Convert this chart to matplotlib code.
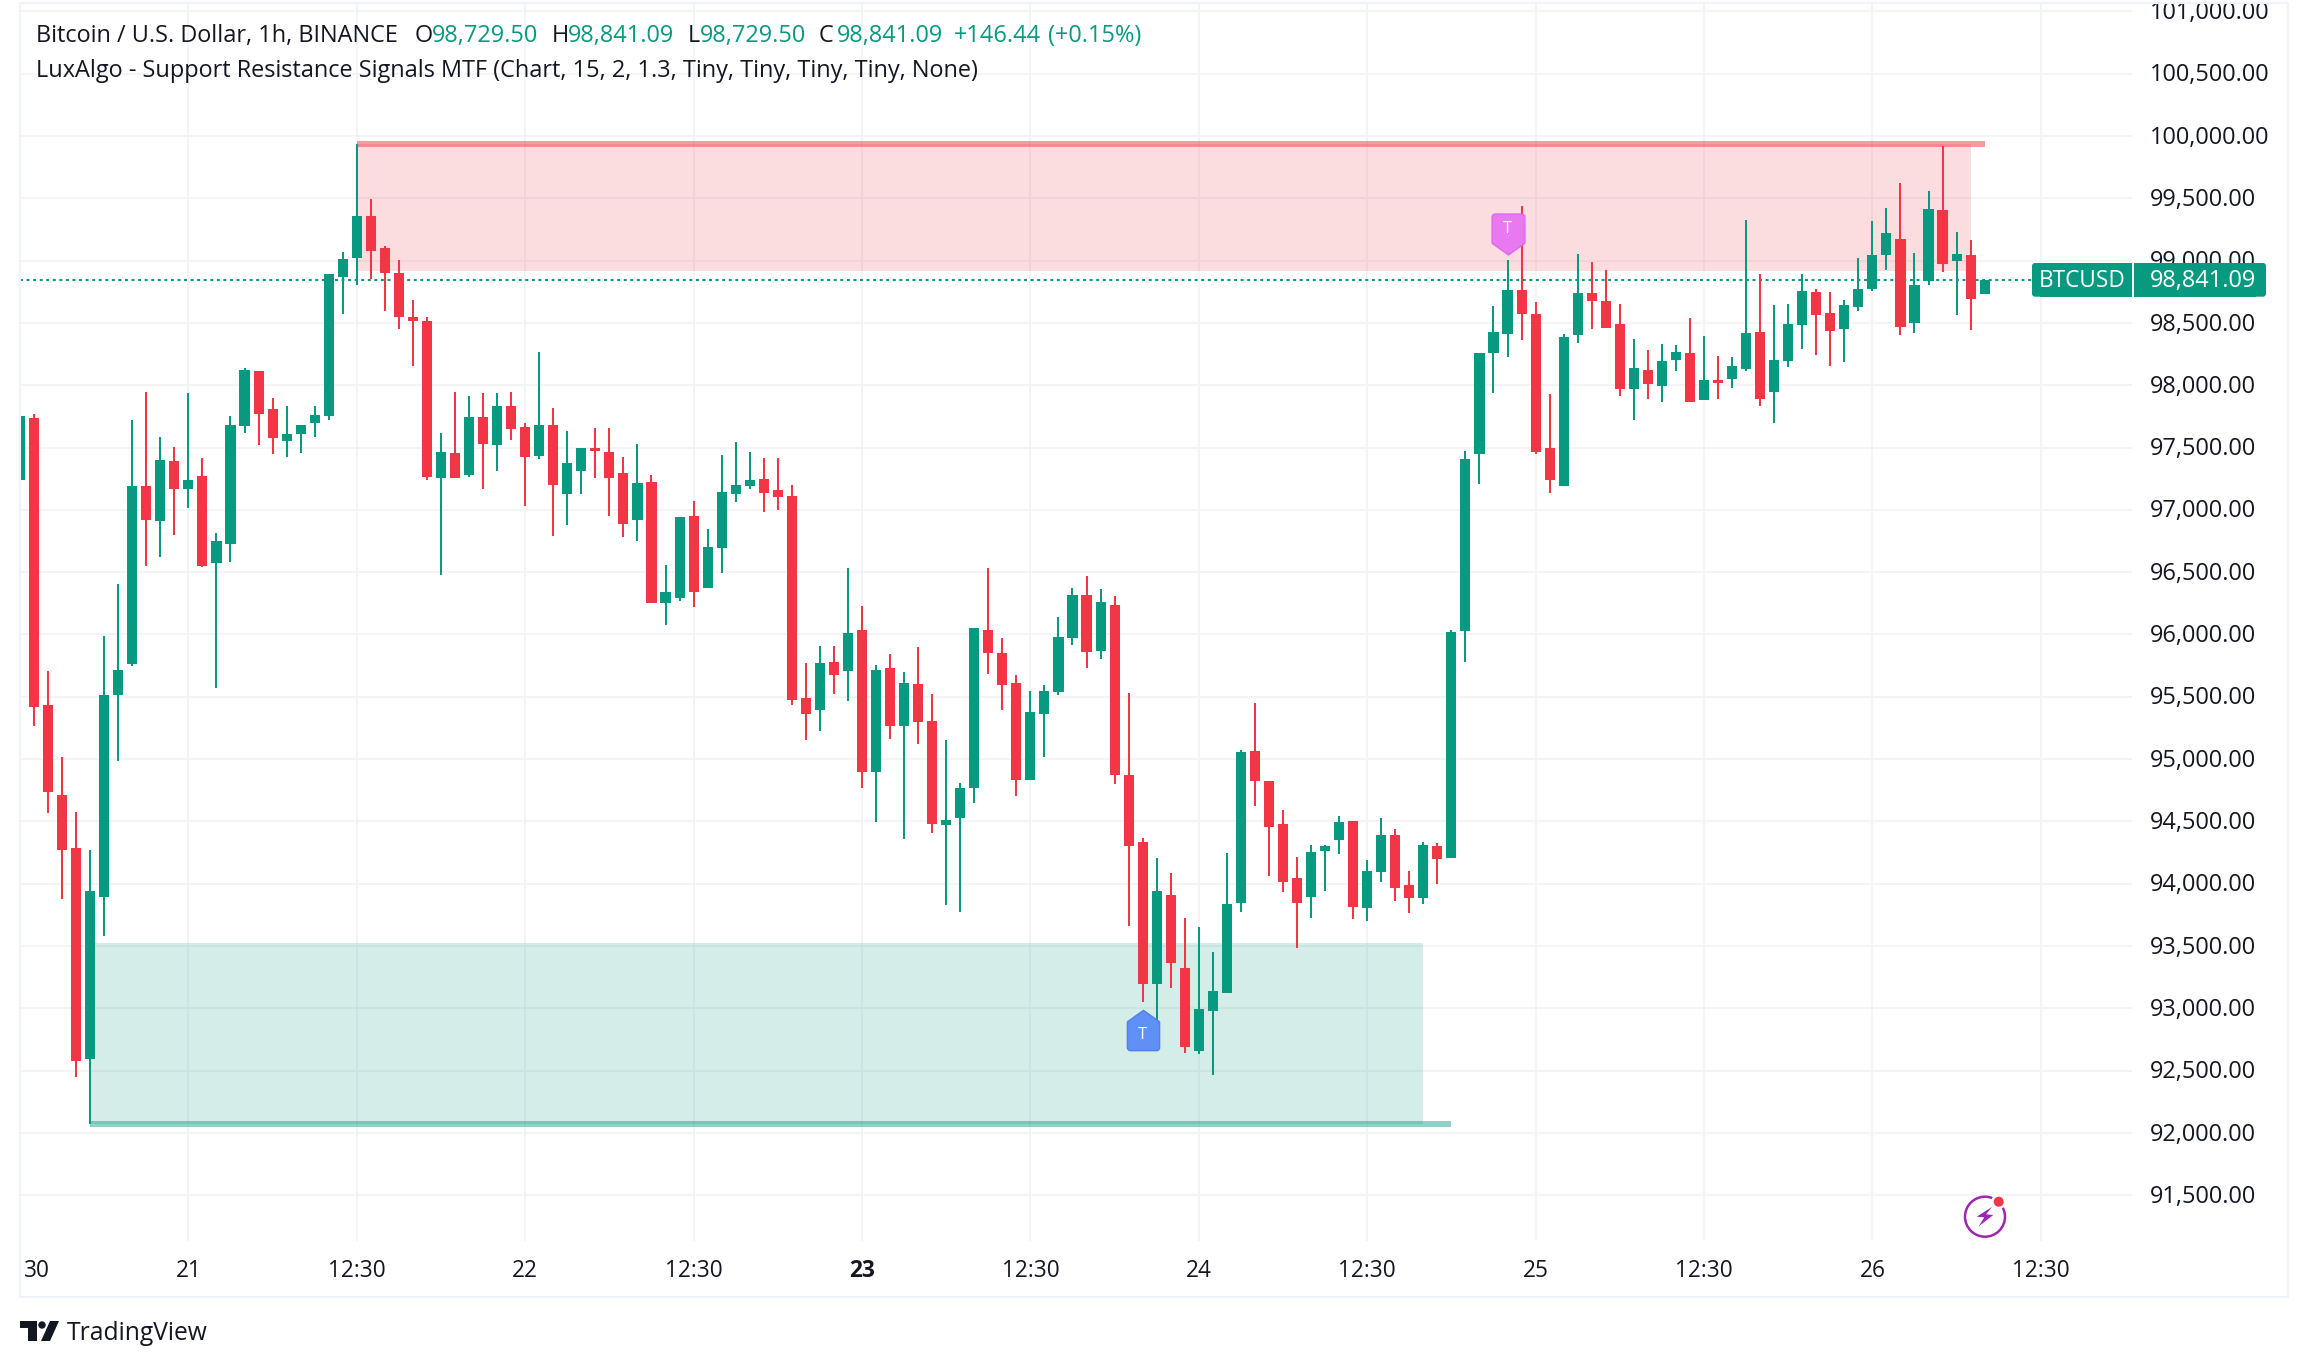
import matplotlib
matplotlib.use("Agg")
import matplotlib.pyplot as plt
from matplotlib.patches import Rectangle, FancyBboxPatch, Polygon, Circle
from matplotlib.path import Path
from matplotlib.transforms import Affine2D, ScaledTranslation

plt.rcParams["font.family"] = ["Open Sans", "DejaVu Sans"]

# hourly candles
opens = [
    97243, 97733, 95430, 94708, 94286, 92593, 93893, 95511, 95759, 97195,
    96914, 97388, 97171, 97275, 96577, 96722, 97676, 98118, 97813, 97556,
    97612, 97693, 97757, 98872, 99024, 99361, 99104, 98904, 98551, 98519,
    97259, 97460, 97283, 97741, 97524, 97837, 97668, 97436, 97684, 97131,
    97315, 97500, 97468, 97299, 96922, 97227, 96249, 96289, 96954, 96369,
    96690, 97131, 97195, 97251, 97163, 97115, 95487, 95394, 95776, 95705,
    96034, 94896, 95730, 95265, 95601, 95304, 94471, 94528, 94768, 96034,
    95848, 95608, 94832, 95361, 95537, 95969, 96313, 95866, 96234, 94871,
    94335, 93197, 93909, 93326, 92654, 92979, 93126, 93845, 95064, 94825,
    94478, 94045, 93895, 94263, 94349, 94503, 93805, 94095, 94392, 93991,
    93884, 94303, 94206, 96027, 97449, 98259, 98411, 98764, 98572, 97497,
    97192, 98403, 98740, 98676, 98491, 97970, 98122, 97994, 98203, 98259,
    97882, 98042, 98050, 98131, 98427, 97946, 98195, 98484, 98748, 98580,
    98451, 98628, 98772, 99045, 99173, 98500, 98836, 99406, 98997, 99045,
    98729.50,
]
highs = [
    97780, 97773, 95703, 95013, 94572, 94270, 95984, 96401, 97717, 97949,
    97588, 97508, 97941, 97412, 96818, 97749, 98142, 98118, 97901, 97837,
    97684, 97837, 98896, 99072, 99936, 99497, 99120, 99008, 98687, 98551,
    97620, 97949, 97917, 97941, 97941, 97949, 97693, 98270, 97821, 97636,
    97500, 97660, 97660, 97428, 97532, 97283, 96561, 96946, 97067, 96850,
    97444, 97548, 97468, 97412, 97412, 97203, 95769, 95905, 95905, 96531,
    96227, 95751, 95841, 95698, 95898, 95519, 95150, 94807, 96048, 96531,
    95969, 95673, 95544, 95594, 96138, 96370, 96467, 96363, 96306, 95529,
    94367, 94206, 94084, 93727, 93655, 93455, 94245, 95072, 95447, 94825,
    94592, 94213, 94310, 94310, 94542, 94503, 94192, 94528, 94438, 94102,
    94335, 94328, 96034, 97475, 98259, 98636, 99005, 99438, 98668, 97930,
    98411, 99053, 98989, 98925, 98652, 98371, 98283, 98331, 98323, 98540,
    98395, 98235, 98227, 99326, 98893, 98644, 98652, 98893, 98772, 98748,
    98684, 99021, 99318, 99422, 99623, 99061, 99558, 99919, 99230, 99165,
    98841.09,
]
lows = [
    97200, 95262, 94564, 93874, 92449, 92072, 93580, 94981, 95743, 96553,
    96618, 96802, 97011, 96545, 95567, 96585, 97620, 97524, 97452, 97420,
    97460, 97588, 97717, 98575, 98808, 98856, 98599, 98455, 98158, 97243,
    96481, 97259, 97267, 97171, 97315, 97564, 97027, 97404, 96794, 96882,
    97131, 97259, 96954, 96786, 96746, 96249, 96072, 96265, 96224, 96369,
    96497, 97059, 97171, 96979, 96995, 95430, 95150, 95225, 95519, 95465,
    94768, 94496, 95161, 94360, 95118, 94406, 93830, 93773, 94646, 95680,
    95394, 94703, 94832, 95014, 95512, 95912, 95730, 95801, 94800, 93662,
    93054, 92800, 93165, 92643, 92636, 92468, 93126, 93773, 94624, 94063,
    93934, 93483, 93727, 93941, 94238, 93716, 93702, 94013, 93863, 93766,
    93838, 93998, 94206, 95776, 97208, 97938, 98227, 98363, 97449, 97136,
    97192, 98339, 98451, 98459, 97914, 97721, 97890, 97866, 98115, 97866,
    97882, 97890, 97978, 98115, 97834, 97697, 98147, 98291, 98243, 98155,
    98187, 98596, 98756, 98925, 98403, 98419, 98804, 98909, 98564, 98443,
    98729.50,
]
closes = [
    97749, 95417, 94735, 94267, 92580, 93941, 95511, 95711, 97195, 96922,
    97396, 97171, 97243, 96553, 96746, 97684, 98126, 97773, 97580, 97612,
    97684, 97765, 98896, 99016, 99361, 99080, 98904, 98551, 98519, 97267,
    97468, 97259, 97741, 97532, 97837, 97652, 97428, 97684, 97203, 97372,
    97500, 97476, 97259, 96890, 97219, 96249, 96337, 96946, 96337, 96698,
    97147, 97203, 97243, 97139, 97107, 95478, 95361, 95769, 95673, 96009,
    94896, 95712, 95265, 95608, 95297, 94478, 94510, 94768, 96048, 95848,
    95594, 94832, 95376, 95544, 95977, 96313, 95859, 96259, 94871, 94303,
    93197, 93941, 93365, 92693, 92997, 93140, 93838, 95057, 94825, 94456,
    94013, 93845, 94256, 94303, 94496, 93812, 94102, 94392, 93966, 93884,
    94310, 94199, 96016, 97411, 98259, 98427, 98764, 98572, 97465, 97240,
    98387, 98740, 98676, 98459, 97970, 98139, 98010, 98195, 98267, 97866,
    98042, 98018, 98155, 98419, 97890, 98203, 98491, 98756, 98564, 98435,
    98644, 98772, 99045, 99222, 98467, 98804, 99414, 98973, 99053, 98692,
    98841.09,
]

# support / resistance boxes: first bar, box end, line end, bottom, top
res_bars = [24, 139, 140]
res_prices = [98917, 99936]
sup_bars = [5, 100, 102]
sup_prices = [92072, 93521]

# signal flags
sig_bars = [80, 106]
sig_prices = [92826, 99210]

price_ticks = list(range(91500, 101001, 500))
price_labels = [f"{p:,.2f}" for p in price_ticks]
time_ticks = list(range(0, 145, 12))
time_labels = ["", "21", "12:30", "22", "12:30", "23", "12:30", "24", "12:30",
               "25", "12:30", "26", "12:30"]

GREEN = "#089981"
RED = "#F23645"
TEXT = "#131722"
GRID = "#f2f3f5"
FS = 16.3
FS_PRICE = 16.9

W, H = 2308, 1367
fig = plt.figure(figsize=(W / 100, H / 100), dpi=100, facecolor="white")
ax = fig.add_axes([20 / W, 1 - 1241 / H, 2112 / W, 1238 / H])
ax.set_xlim(0.068, 150.5)
ax.set_ylim(91133, 101067)

ax.set_axisbelow(True)
ax.grid(True, color=GRID, lw=1.3)
for s in ax.spines.values():
    s.set_visible(False)

ax.set_xticks(time_ticks, time_labels, fontsize=FS, color=TEXT)
ax.yaxis.tick_right()
ax.set_yticks(price_ticks, price_labels, fontsize=FS_PRICE, color=TEXT)
ax.tick_params(axis="both", length=0)
ax.tick_params(axis="x", pad=12.7)
ax.tick_params(axis="y", pad=13)
for lab in ax.get_xticklabels():
    if lab.get_text() == "23":
        lab.set_fontweight("bold")
# price labels sit a little higher than centre
for lab in ax.get_yticklabels():
    lab.set_transform(lab.get_transform() + ScaledTranslation(0, 1.0 / 72, fig.dpi_scale_trans))

# zones
ax.fill_between(res_bars[:2], res_prices[0], res_prices[1], color=RED, alpha=0.17, lw=0, zorder=1.5)
ax.plot([res_bars[0], res_bars[2]], [res_prices[1]] * 2, color=RED, alpha=0.5, lw=4.3,
        solid_capstyle="butt", zorder=1.6)
ax.fill_between(sup_bars[:2], sup_prices[0], sup_prices[1], color=GREEN, alpha=0.17, lw=0, zorder=1.5)
ax.plot([sup_bars[0], sup_bars[2]], [sup_prices[0]] * 2, color=GREEN, alpha=0.45, lw=4.3,
        solid_capstyle="butt", zorder=1.6)

# last price line
ax.axhline(closes[-1], color=GREEN, lw=1.5, dashes=(1.4, 1.75), zorder=2)

# candles
bars = list(range(len(opens)))
colors = [GREEN if c >= o else RED for o, c in zip(opens, closes)]
ax.vlines(bars, lows, highs, colors=colors, lw=1.45, zorder=3)
ax.bar(bars, [abs(c - o) for o, c in zip(opens, closes)],
       bottom=[min(o, c) for o, c in zip(opens, closes)],
       width=0.72, color=colors, lw=0, zorder=3.1)

# signal flags, arrow up for the low one and down for the high one
flag_up = Path(
    [(-0.8, -0.85), (-0.8, 0.4), (-0.8, 0.45), (-0.7, 0.5), (0, 1), (0.7, 0.5), (0.8, 0.45), (0.8, 0.4),
     (0.8, -0.85), (0.8, -1), (0.65, -1), (-0.65, -1), (-0.8, -1), (-0.8, -0.85), (-0.8, -0.85)],
    [Path.MOVETO, Path.LINETO, Path.CURVE3, Path.CURVE3, Path.LINETO, Path.LINETO, Path.CURVE3, Path.CURVE3,
     Path.LINETO, Path.CURVE3, Path.CURVE3, Path.LINETO, Path.CURVE3, Path.CURVE3, Path.CLOSEPOLY])
flag_down = flag_up.transformed(Affine2D().scale(1, -1))
ax.plot(sig_bars[0], sig_prices[0], marker=flag_up, ms=29, mfc="#6090f5", mec="#5080f0", mew=1, zorder=5)
ax.plot(sig_bars[1], sig_prices[1], marker=flag_down, ms=29.5, mfc="#e879f0", mec="#e266ee", mew=1, zorder=5)
ax.annotate("T", (sig_bars[0], sig_prices[0]), xytext=(0, -3.6), textcoords="offset points",
            color="white", fontsize=12, ha="center", va="center", zorder=6)
ax.annotate("T", (sig_bars[1], sig_prices[1]), xytext=(0, 3.8), textcoords="offset points",
            color="white", fontsize=12, ha="center", va="center", zorder=6)

# overlay in picture pixels for the frame, legend, tags and logo
ov = fig.add_axes([0, 0, 1, 1], facecolor="none")
ov.set_xlim(0, W)
ov.set_ylim(H, 0)
ov.axis("off")

ov.add_patch(Rectangle((20, 3), 2268, 1294, fc="none", ec="#f0f3fa", lw=1.5))

ov.text(24, 1271, "30", fontsize=FS, color=TEXT, ha="left", va="center")

legend = [
    (36, "Bitcoin / U.S. Dollar, 1h, BINANCE", TEXT),
    (415, "O", TEXT), (432, "98,729.50", GREEN),
    (552, "H", TEXT), (568, "98,841.09", GREEN),
    (688, "L", TEXT), (700, "98,729.50", GREEN),
    (819, "C", TEXT), (837, "98,841.09", GREEN),
    (954, "+146.44", GREEN), (1048, "(+0.15%)", GREEN),
]
for x, txt, col in legend:
    ov.text(x, 41.7, txt, fontsize=FS_PRICE, color=col, ha="left", va="baseline")
ov.text(36, 76.7, "LuxAlgo - Support Resistance Signals MTF (Chart, 15, 2, 1.3, Tiny, Tiny, Tiny, Tiny, None)",
        fontsize=FS_PRICE, color=TEXT, ha="left", va="baseline")

# last price tags
ov.add_patch(FancyBboxPatch((2032, 263), 20, 33.7, boxstyle="round,pad=0,rounding_size=3", fc=GREEN, lw=0))
ov.add_patch(Rectangle((2040, 263), 92, 33.7, fc=GREEN, lw=0))
ov.add_patch(FancyBboxPatch((2246, 263), 20, 33.7, boxstyle="round,pad=0,rounding_size=3", fc=GREEN, lw=0))
ov.add_patch(Rectangle((2134, 263), 122, 33.7, fc=GREEN, lw=0))
ov.text(2082, 286.7, "BTCUSD", fontsize=FS, color="white", ha="center", va="baseline")
ov.text(2150, 286.7, f"{closes[-1]:,.2f}", fontsize=FS_PRICE, color="white", ha="left", va="baseline")

# lightning badge
ov.add_patch(Circle((1985, 1216.7), 20, fc="white", ec="#9c27b0", lw=1.8))
ov.add_patch(Polygon([(1992, 1207), (1976.7, 1216.7), (1984.3, 1217.3), (1978.7, 1226.3),
                      (1993.3, 1215), (1986, 1214.3)], fc="#9c27b0", lw=0))
ov.add_patch(Circle((1998.7, 1201.7), 7.5, fc="white", lw=0))
ov.add_patch(Circle((1998.7, 1201.7), 5, fc=RED, lw=0))

# TradingView logo
ov.add_patch(Polygon([(20, 1321), (37, 1321), (37, 1341), (28, 1341), (28, 1328), (20, 1328)], fc=TEXT, lw=0))
ov.add_patch(Circle((42, 1325), 3.7, fc=TEXT, lw=0))
ov.add_patch(Polygon([(50, 1321), (59, 1321), (50, 1341), (41, 1341)], fc=TEXT, lw=0))
ov.text(67, 1340, "TradingView", fontsize=17.7, color=TEXT, ha="left", va="baseline")

fig.savefig("out.png", dpi=100)
